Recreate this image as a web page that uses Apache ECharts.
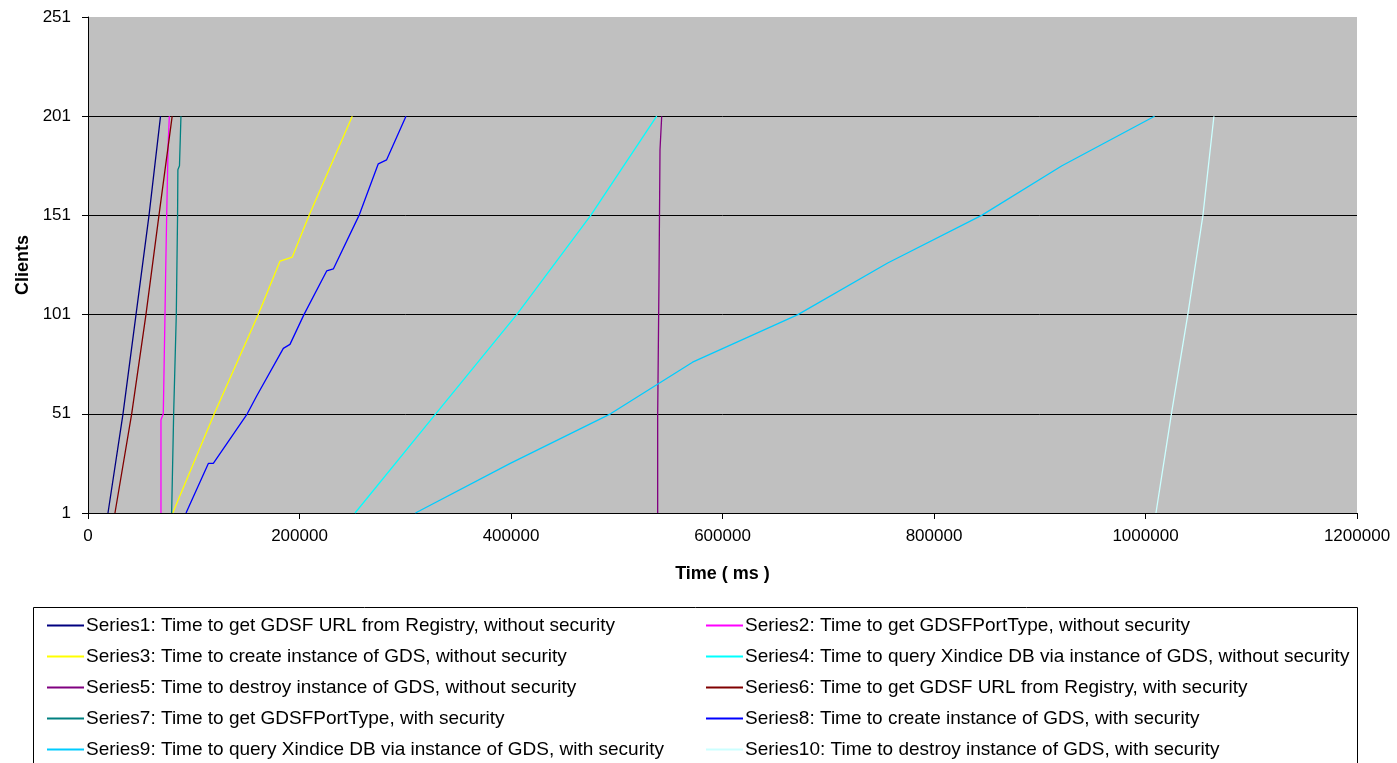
<!DOCTYPE html>
<html>
<head>
<meta charset="utf-8">
<script src="https://cdn.jsdelivr.net/npm/echarts@6/dist/echarts.min.js"></script>
<style>
html,body{margin:0;padding:0;background:#fff;}
#chart{width:1397px;height:763px;}
</style>
</head>
<body>
<div id="chart"></div>
<script>
// ---- Data ----
const seriesNames = [
  "Series1: Time to get GDSF URL from Registry, without security",
  "Series2: Time to get GDSFPortType, without security",
  "Series3: Time to create instance of GDS, without security",
  "Series4: Time to query Xindice DB via instance of GDS, without security",
  "Series5: Time to destroy instance of GDS, without security",
  "Series6: Time to get GDSF URL from Registry, with security",
  "Series7: Time to get GDSFPortType, with security",
  "Series8: Time to create instance of GDS, with security",
  "Series9: Time to query Xindice DB via instance of GDS, with security",
  "Series10: Time to destroy instance of GDS, with security"
];
const seriesColors = ["#000080","#FF00FF","#FFFF00","#00FFFF","#800080","#800000","#008080","#0000FF","#00CCFF","#CCFFFF"];

const s1Time    = [18900, 33100, 45400, 57700, 68600];
const s1Clients = [1, 51, 101, 151, 201];

const s2Time    = [69000, 69000, 70600, 71200, 72800, 73400, 74400, 75800, 76900];
const s2Clients = [1, 48, 49, 51, 101, 121, 151, 187, 201];

const s3Time    = [80100, 119400, 161000, 181600, 193200, 209000, 249900];
const s3Clients = [1, 51, 101, 128, 130, 151, 201];

const s4Time    = [252500, 328800, 405400, 475400, 537800];
const s4Clients = [1, 51, 101, 151, 201];

const s5Time    = [538700, 538700, 539900, 539900, 540900, 540900, 542500, 542500];
const s5Clients = [1, 50, 51, 116, 117, 184, 185, 201];

const s6Time    = [25500, 41300, 54800, 67100, 79600];
const s6Clients = [1, 51, 101, 151, 201];

const s7Time    = [79100, 81000, 83500, 84700, 85000, 86500, 87900];
const s7Clients = [1, 51, 101, 151, 174, 176, 201];

const s8Time    = [92700, 113800, 118500, 150600, 159500, 184700, 191000, 204200, 225700, 232000, 256300, 274500, 282400, 300700];
const s8Clients = [1, 26, 26, 51, 60, 84, 86, 101, 123, 124, 151, 177, 179, 201];

const s9Time    = [309600, 399300, 494100, 571700, 671300, 756200, 845000, 921000, 1008600];
const s9Clients = [1, 26, 51, 77, 101, 127, 151, 176, 201];

const s10Time    = [1009900, 1024500, 1040000, 1054300, 1064700];
const s10Clients = [1, 51, 101, 151, 201];

const allTimes   = [s1Time, s2Time, s3Time, s4Time, s5Time, s6Time, s7Time, s8Time, s9Time, s10Time];
const allClients = [s1Clients, s2Clients, s3Clients, s4Clients, s5Clients, s6Clients, s7Clients, s8Clients, s9Clients, s10Clients];

const xAxisName = "Time ( ms )";
const yAxisName = "Clients";

// ---- Chart ----
const chart = echarts.init(document.getElementById('chart'), null, {renderer: 'canvas'});
const FONT = 'Liberation Sans, Arial, sans-serif';

const series = seriesNames.map((name, i) => ({
  name: name,
  type: 'line',
  data: allTimes[i].map((t, k) => [t, allClients[i][k]]),
  symbol: 'none',
  lineStyle: {color: seriesColors[i], width: 1.3},
  itemStyle: {color: seriesColors[i]},
  emphasis: {disabled: true},
  animation: false
}));

const legendBase = {
  orient: 'vertical',
  icon: 'rect',
  itemWidth: 37,
  itemHeight: 2,
  itemGap: 0,
  height: 220,
  selectedMode: false,
  textStyle: {fontFamily: FONT, fontSize: 19, color: '#000', lineHeight: 31, padding: [0,0,0,-3]},
  padding: 0
};

chart.setOption({
  animation: false,
  backgroundColor: '#fff',
  grid: {
    left: 88, right: 40, top: 17, bottom: 250,
    show: true, backgroundColor: '#C0C0C0', borderWidth: 0
  },
  xAxis: {
    type: 'value',
    min: 0, max: 1200000, interval: 200000,
    name: xAxisName,
    nameLocation: 'middle',
    nameGap: 52,
    nameTextStyle: {fontFamily: FONT, fontSize: 18, fontWeight: 'bold', color: '#000'},
    axisLine: {show: true, lineStyle: {color: '#000', width: 1}},
    axisTick: {show: true, length: 6, lineStyle: {color: '#000'}},
    axisLabel: {fontFamily: FONT, fontSize: 17, color: '#000', margin: 15, formatter: v => String(v)},
    splitLine: {show: false}
  },
  yAxis: {
    type: 'value',
    min: 1, max: 251, interval: 50,
    name: yAxisName,
    nameLocation: 'middle',
    nameGap: 56,
    nameRotate: 90,
    nameTextStyle: {fontFamily: FONT, fontSize: 18, fontWeight: 'bold', color: '#000'},
    axisLine: {show: true, lineStyle: {color: '#000', width: 1}},
    axisTick: {show: true, length: 6, lineStyle: {color: '#000'}},
    axisLabel: {fontFamily: FONT, fontSize: 17, color: '#000', margin: 17, formatter: v => String(v)},
    splitLine: {show: true, showMaxLine: false, lineStyle: {color: '#000', width: 1}}
  },
  legend: [
    Object.assign({}, legendBase, {left: 47, top: 610, data: [seriesNames[0], seriesNames[2], seriesNames[4], seriesNames[6], seriesNames[8]]}),
    Object.assign({}, legendBase, {left: 706, top: 610, data: [seriesNames[1], seriesNames[3], seriesNames[5], seriesNames[7], seriesNames[9]]})
  ],
  graphic: [{
    type: 'rect',
    z: 0,
    shape: {x: 33.5, y: 607.5, width: 1324, height: 200},
    style: {fill: '#fff', stroke: '#000', lineWidth: 1}
  }],
  series: series
});
</script>
</body>
</html>
